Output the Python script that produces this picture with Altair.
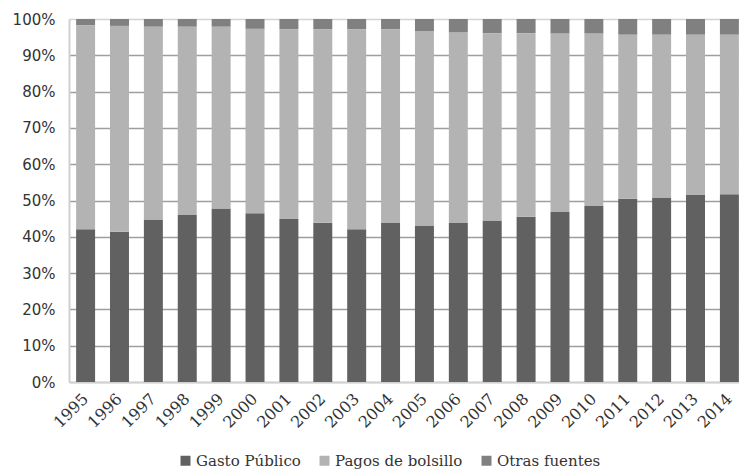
import altair as alt
import pandas as pd

# Health spending by financing source, share of total (%)
years = [str(y) for y in range(1995, 2015)]
gasto_publico = [42.1, 41.4, 44.6, 46.0, 47.8, 46.5, 44.9, 43.9, 42.1, 43.8,
                 43.1, 43.8, 44.5, 45.5, 46.8, 48.5, 50.5, 50.8, 51.5, 51.7]
pagos_bolsillo = [56.2, 56.7, 53.3, 51.9, 50.1, 50.8, 52.3, 53.3, 55.1, 53.4,
                  53.6, 52.6, 51.6, 50.6, 49.2, 47.5, 45.2, 44.9, 44.2, 44.0]
otras_fuentes = [1.7, 1.9, 2.1, 2.1, 2.1, 2.7, 2.8, 2.8, 2.8, 2.8,
                 3.3, 3.6, 3.9, 3.9, 4.0, 4.0, 4.3, 4.3, 4.3, 4.3]

series = ["Gasto Público", "Pagos de bolsillo", "Otras fuentes"]
colors = ["#616161", "#b3b3b3", "#808080"]

rows = []
for name, vals in zip(series, [gasto_publico, pagos_bolsillo, otras_fuentes]):
    for yr, v in zip(years, vals):
        rows.append({"Año": yr, "Fuente": name, "Valor": v, "orden": series.index(name)})
df = pd.DataFrame(rows)

grid_color = {
    "condition": {"test": "datum.value == 0 || datum.value == 1", "value": "#d4d4d4"},
    "value": "#9e9e9e",
}

chart = (
    alt.Chart(df)
    .mark_bar()
    .encode(
        x=alt.X(
            "Año:N",
            sort=years,
            title=None,
            scale=alt.Scale(range=[0, 677], paddingInner=0.44, paddingOuter=0.21),
            axis=alt.Axis(
                labelAngle=-45,
                labelAlign="right",
                labelBaseline="middle",
                labelFont="DejaVu Serif",
                labelFontSize=16,
                labelColor="#333333",
                labelPadding=14,
                ticks=False,
                domainColor="#d0d0d0",
                domainWidth=2,
                grid=False,
            ),
        ),
        y=alt.Y(
            "Valor:Q",
            stack="normalize",
            title=None,
            scale=alt.Scale(domain=[0, 1], nice=False),
            axis=alt.Axis(
                format=".0%",
                values=[i / 10 for i in range(11)],
                labelFont="DejaVu Sans",
                labelFontSize=15,
                labelColor="#333333",
                labelPadding=14,
                ticks=False,
                domainColor="#d0d0d0",
                domainWidth=2,
                gridColor=grid_color,
                gridWidth=1.3,
            ),
        ),
        color=alt.Color(
            "Fuente:N",
            sort=series,
            scale=alt.Scale(domain=series, range=colors),
            legend=alt.Legend(
                title=None,
                orient="none",
                direction="horizontal",
                legendX=109,
                legendY=434,
                symbolType="square",
                symbolSize=100,
                symbolStrokeWidth=0,
                labelFont="DejaVu Serif",
                labelFontSize=15,
                labelColor="#333333",
                labelOffset=3,
                columnPadding=16,
            ),
        ),
        order=alt.Order("orden:Q"),
    )
    .properties(
        width=670,
        height=363,
        padding={"left": 69, "top": 19, "right": 0, "bottom": 88},
        autosize=alt.AutoSizeParams(type="none"),
    )
    .configure_view(stroke=None)
    .configure(background="white")
)

chart.save("out.html", embed_options={"renderer": "svg", "actions": False})
